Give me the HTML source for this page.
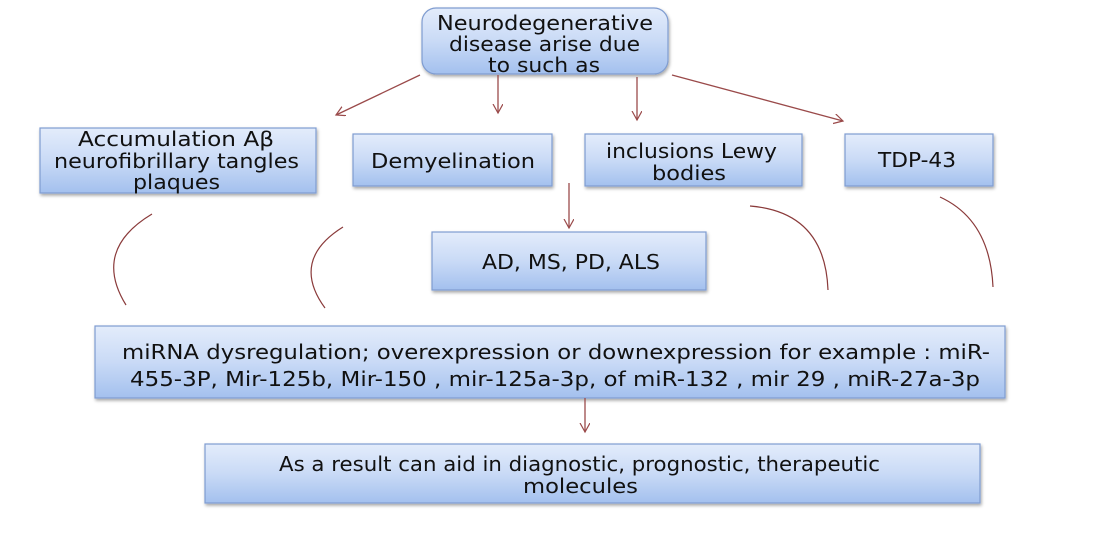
<!DOCTYPE html>
<html><head><meta charset="utf-8"><style>
html,body{margin:0;padding:0;background:#fff;width:1100px;height:560px;overflow:hidden}
</style></head><body>
<svg width="1100" height="560" viewBox="0 0 1100 560" xmlns="http://www.w3.org/2000/svg">
<defs>
<linearGradient id="g" x1="0" y1="0" x2="0" y2="1">
<stop offset="0" stop-color="#e3ecfb"/><stop offset="0.5" stop-color="#c9daf6"/><stop offset="1" stop-color="#a3c0ee"/>
</linearGradient>
<filter id="s" x="-5%" y="-10%" width="110%" height="130%"><feDropShadow dx="1" dy="2" stdDeviation="1.5" flood-color="#000" flood-opacity="0.35"/></filter>
<marker id="a" markerWidth="12" markerHeight="12" refX="9" refY="5" orient="auto" markerUnits="userSpaceOnUse"><path d="M0,0 L9,5 L0,10" fill="none" stroke="#9a4a4a" stroke-width="1.2"/></marker>
</defs>
<g fill="url(#g)" stroke="#7f9cd0" stroke-width="1.2" filter="url(#s)">
<rect x="422" y="8" width="246" height="66" rx="14"/>
<rect x="40" y="128" width="276" height="65"/>
<rect x="353" y="134" width="199" height="52"/>
<rect x="585" y="134" width="217" height="52"/>
<rect x="845" y="134" width="148" height="52"/>
<rect x="432" y="232" width="274" height="58"/>
<rect x="95" y="326" width="910" height="72"/>
<rect x="205" y="444" width="775" height="59"/>
</g>
<g stroke="#9a4a4a" stroke-width="1.3" fill="none" marker-end="url(#a)">
<line x1="420" y1="75" x2="336" y2="115"/>
<line x1="498" y1="75" x2="498" y2="113"/>
<line x1="637" y1="77" x2="637" y2="120"/>
<line x1="672" y1="75" x2="843" y2="121"/>
<line x1="569" y1="183" x2="569" y2="228"/>
<line x1="585" y1="398" x2="585" y2="432"/>
</g>
<g stroke="#8a3a3a" stroke-width="1.2" fill="none">
<path d="M152,214 Q92,250 126,305"/>
<path d="M343,227 Q290,260 325,308"/>
<path d="M750,206 Q825,212 828,290"/>
<path d="M940,197 Q990,220 993,287"/>
</g>
<g font-family="DejaVu Sans, Liberation Sans, sans-serif" font-size="20" fill="#111">
<text x="437" y="30" textLength="216" lengthAdjust="spacingAndGlyphs">Neurodegenerative</text>
<text x="449" y="51" textLength="191" lengthAdjust="spacingAndGlyphs">disease arise due</text>
<text x="488" y="72" textLength="112" lengthAdjust="spacingAndGlyphs">to such as</text>
<text x="78" y="146" textLength="196" lengthAdjust="spacingAndGlyphs">Accumulation  Aβ</text>
<text x="54" y="168" textLength="245" lengthAdjust="spacingAndGlyphs">neurofibrillary tangles</text>
<text x="133" y="189" textLength="87" lengthAdjust="spacingAndGlyphs">plaques</text>
<text x="371" y="168" textLength="164" lengthAdjust="spacingAndGlyphs">Demyelination</text>
<text x="606" y="158" textLength="171" lengthAdjust="spacingAndGlyphs">inclusions Lewy</text>
<text x="652" y="180" textLength="74" lengthAdjust="spacingAndGlyphs">bodies</text>
<text x="878" y="167" textLength="78" lengthAdjust="spacingAndGlyphs">TDP-43</text>
<text x="482" y="269" textLength="178" lengthAdjust="spacingAndGlyphs">AD, MS, PD, ALS</text>
<text x="122" y="359" textLength="868" lengthAdjust="spacingAndGlyphs">miRNA dysregulation; overexpression or downexpression  for example :  miR-</text>
<text x="130" y="386" textLength="850" lengthAdjust="spacingAndGlyphs">455-3P, Mir-125b, Mir-150 , mir-125a-3p, of miR-132 , mir 29 , miR-27a-3p</text>
<text x="279" y="471" textLength="601" lengthAdjust="spacingAndGlyphs">As a result can aid in  diagnostic, prognostic, therapeutic</text>
<text x="523" y="493" textLength="115" lengthAdjust="spacingAndGlyphs">molecules</text>
</g>
</svg>
</body></html>
